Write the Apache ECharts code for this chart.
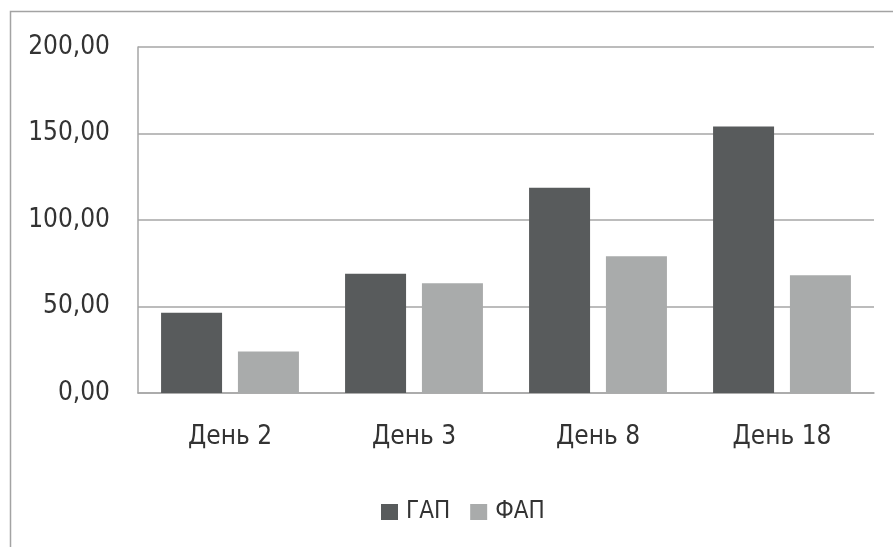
<!DOCTYPE html>
<html>
<head>
<meta charset="utf-8">
<script src="https://cdn.jsdelivr.net/npm/echarts@6/dist/echarts.min.js"></script>
<style>html,body{margin:0;padding:0;background:#fff}#c{width:893px;height:547px}</style>
</head>
<body>
<div id="c"></div>
<script>
var categories = ['День 2', 'День 3', 'День 8', 'День 18'];
var seriesNames = ['ГАП', 'ФАП'];
var gapValues = [46.4, 69.0, 118.7, 154.0];
var fapValues = [24.0, 63.4, 79.0, 68.0];
var yTicks = [0, 50, 100, 150, 200];

var FONT = "'DejaVu Sans Condensed', sans-serif";
var chart = echarts.init(document.getElementById('c'), null, {renderer: 'canvas'});
chart.setOption({
  animation: false,
  backgroundColor: '#ffffff',
  graphic: [{
    type: 'rect', shape: {x: 10.5, y: 11.5, width: 1000, height: 1000},
    style: {fill: 'none', stroke: '#a3a3a3', lineWidth: 1.5}, silent: true, z: -1
  }],
  grid: {left: 138, right: 19, top: 47, bottom: 154},
  legend: {
    data: seriesNames, left: 376, top: 495,
    itemWidth: 17, itemHeight: 16, itemGap: 20,
    icon: 'rect',
    textStyle: {fontFamily: FONT, fontSize: 24, color: '#333333', padding: [0, 0, 0, 3]}
  },
  xAxis: {
    type: 'category', data: categories,
    axisLine: {show: true, lineStyle: {color: '#a6a6a6', width: 1.5}},
    axisTick: {show: false},
    axisLabel: {fontFamily: FONT, fontSize: 26, color: '#333333', margin: 31}
  },
  yAxis: {
    type: 'value', min: yTicks[0], max: yTicks[yTicks.length - 1], interval: 50,
    axisLine: {show: true, lineStyle: {color: '#a6a6a6', width: 1.5}},
    axisTick: {show: false},
    splitLine: {lineStyle: {color: '#a6a6a6', width: 1.5}},
    axisLabel: {
      fontFamily: FONT, fontSize: 26, color: '#333333', margin: 28,
      formatter: function (v) { return v.toFixed(2).replace('.', ','); }
    }
  },
  series: [
    {name: seriesNames[0], type: 'bar', data: gapValues, barWidth: 61, barGap: '26%',
     itemStyle: {color: '#585b5c'}},
    {name: seriesNames[1], type: 'bar', data: fapValues, barWidth: 61,
     itemStyle: {color: '#a9abab'}}
  ]
});
</script>
</body>
</html>
